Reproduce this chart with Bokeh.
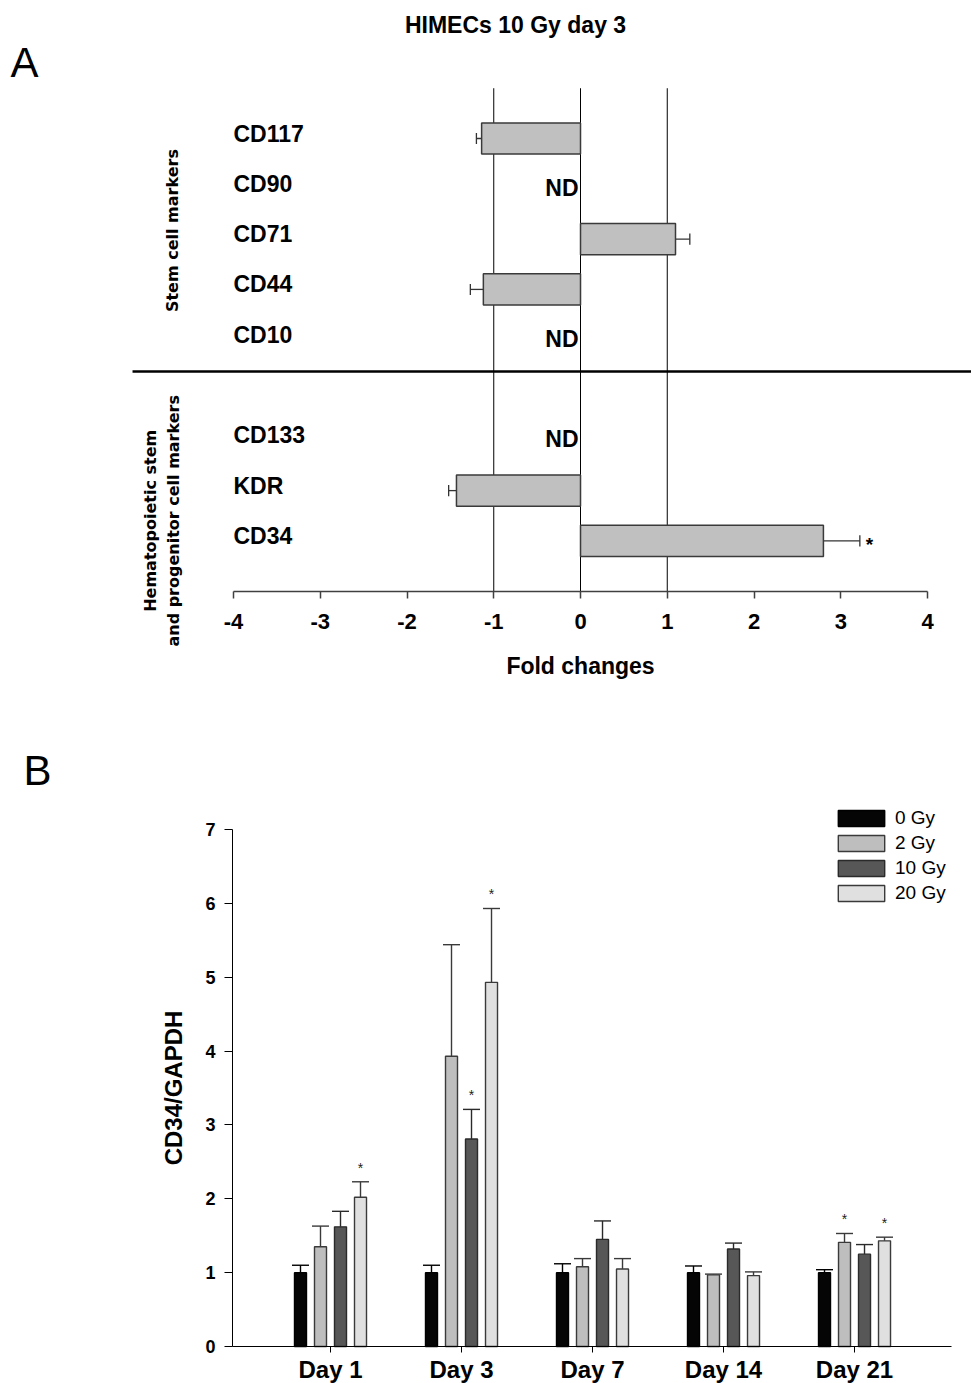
from bokeh.plotting import figure
from bokeh.models import Range1d, Label, FixedTicker, Legend, LegendItem
from bokeh.layouts import column
from bokeh.embed import file_html
from bokeh.resources import INLINE
from bokeh.core.properties import value
import math

# ---------------- Panel A data ----------------
stem_markers = ["CD117", "CD90", "CD71", "CD44", "CD10"]
stem_fold = [-1.14, None, 1.095, -1.12, None]
stem_err = [0.06, None, 0.165, 0.15, None]
stem_sig = [False, False, False, False, False]

hsc_markers = ["CD133", "KDR", "CD34"]
hsc_fold = [None, -1.43, 2.80]
hsc_err = [None, 0.09, 0.42]
hsc_sig = [False, False, True]

ref_lines = [-1, 0, 1]
fold_ticks = [-4, -3, -2, -1, 0, 1, 2, 3, 4]

# ---------------- Panel B data ----------------
days = ["Day 1", "Day 3", "Day 7", "Day 14", "Day 21"]
doses = ["0 Gy", "2 Gy", "10 Gy", "20 Gy"]
gy0 = [1.00, 1.00, 1.00, 1.00, 1.00]
gy0_err = [0.10, 0.10, 0.12, 0.09, 0.04]
gy2 = [1.35, 3.93, 1.08, 0.97, 1.41]
gy2_err = [0.28, 1.51, 0.11, 0.01, 0.12]
gy10 = [1.62, 2.81, 1.45, 1.32, 1.25]
gy10_err = [0.21, 0.40, 0.25, 0.08, 0.13]
gy20 = [2.02, 4.93, 1.05, 0.96, 1.43]
gy20_err = [0.21, 1.00, 0.14, 0.05, 0.05]
gy0_sig = [False, False, False, False, False]
gy2_sig = [False, False, False, False, True]
gy10_sig = [False, True, False, False, False]
gy20_sig = [True, True, False, False, True]
y_ticks_b = [0, 1, 2, 3, 4, 5, 6, 7]

FONT = value("Liberation Sans")
LFONT = "Liberation Sans"
WIDE = "DejaVu Sans"

# =============== Panel A ===============
pA = figure(width=971, height=700,
            x_range=Range1d(-6.686, 4.507), y_range=Range1d(11.173, -2.744),
            output_backend="svg", toolbar_location=None, y_axis_type=None,
            min_border_left=0, min_border_right=0, min_border_top=0, min_border_bottom=0)
pA.outline_line_color = None
pA.grid.visible = False

markers = stem_markers + hsc_markers
folds = stem_fold + hsc_fold
errs = stem_err + hsc_err
sigs = stem_sig + hsc_sig
rows = list(range(len(stem_markers))) + [len(stem_markers) + 1 + i for i in range(len(hsc_markers))]
axis_row = rows[-1] + 1

# reference lines
pA.segment(x0=ref_lines, x1=ref_lines, y0=[-1] * len(ref_lines), y1=[axis_row] * len(ref_lines),
           line_color="black", line_width=1)

# separator between groups
sep_row = len(stem_markers) - 0.37
pA.segment(x0=[-5.164], x1=[4.6], y0=[sep_row], y1=[sep_row], line_color="black", line_width=2.5)

bar_y, bar_l, bar_r = [], [], []
e_x0, e_x1, e_y = [], [], []
nd_y, star_x, star_y = [], [], []
for r, f, e, s in zip(rows, folds, errs, sigs):
    if f is None:
        nd_y.append(r)
        continue
    bar_y.append(r)
    bar_l.append(min(0, f))
    bar_r.append(max(0, f))
    end = f + math.copysign(e, f)
    e_x0.append(f)
    e_x1.append(end)
    e_y.append(r)
    if s:
        star_x.append(end)
        star_y.append(r)

pA.segment(x0=e_x0, x1=e_x1, y0=e_y, y1=e_y, line_color="#333333", line_width=1.3)
pA.segment(x0=e_x1, x1=e_x1, y0=[y - 0.11 for y in e_y], y1=[y + 0.11 for y in e_y],
           line_color="#333333", line_width=1.3)
pA.hbar(y=bar_y, left=bar_l, right=bar_r, height=0.62, fill_color="#c0c0c0",
        line_color="#3a3a3a", line_width=1.5)

pA.text(x=[-4] * len(markers), y=rows, text=markers, text_font=FONT, text_font_style="bold",
        text_font_size="23px", text_baseline="middle", text_align="left", y_offset=-5,
        text_color="black")
pA.text(x=[0] * len(nd_y), y=nd_y, text=["ND"] * len(nd_y), text_font=FONT,
        text_font_style="bold", text_font_size="23px", text_baseline="middle",
        text_align="right", x_offset=-2, y_offset=-1, text_color="black")
pA.text(x=star_x, y=star_y, text=["*"] * len(star_x), text_font=FONT, text_font_style="bold",
        text_font_size="19px", text_baseline="alphabetic", text_align="left",
        x_offset=6, y_offset=4, text_color="black")

pA.add_layout(Label(x=-0.749, y=-2.247, text="HIMECs 10 Gy day 3", text_font=LFONT,
                    text_font_style="bold", text_font_size="23px", text_align="center",
                    text_baseline="middle", text_color="black"))
pA.add_layout(Label(x=-6.41, y=-1.51, text="A", text_font=LFONT, text_font_size="42px",
                    text_align="center", text_baseline="middle", text_color="black"))
pA.add_layout(Label(x=-4.70, y=1.83, text="Stem cell markers", text_font=WIDE,
                    text_font_style="bold", text_font_size="16px", text_align="center",
                    text_baseline="middle", angle=math.pi / 2, text_color="black"))
pA.add_layout(Label(x=-4.957, y=7.6, text="Hematopoietic stem", text_font=WIDE,
                    text_font_style="bold", text_font_size="16px", text_align="center",
                    text_baseline="middle", angle=math.pi / 2, text_color="black"))
pA.add_layout(Label(x=-4.69, y=7.6, text="and progenitor cell markers", text_font=WIDE,
                    text_font_style="bold", text_font_size="16px", text_align="center",
                    text_baseline="middle", angle=math.pi / 2, text_color="black"))

xa = pA.xaxis[0]
xa.fixed_location = axis_row
xa.bounds = (fold_ticks[0], fold_ticks[-1])
xa.ticker = FixedTicker(ticks=fold_ticks)
xa.major_label_overrides = {t: str(t) for t in fold_ticks}
xa.minor_tick_line_color = None
xa.major_tick_in = 0
xa.major_tick_out = 7
xa.axis_line_color = "#404040"
xa.axis_line_width = 1.5
xa.major_tick_line_color = "#404040"
xa.major_tick_line_width = 1.5
xa.major_label_text_font = LFONT
xa.major_label_text_font_style = "bold"
xa.major_label_text_font_size = "22px"
xa.major_label_text_color = "black"
xa.major_label_standoff = 16
xa.axis_label = "Fold changes"
xa.axis_label_text_font = LFONT
xa.axis_label_text_font_style = "bold"
xa.axis_label_text_font_size = "23px"
xa.axis_label_text_color = "black"
xa.axis_label_standoff = 20

# =============== Panel B ===============
pB = figure(width=971, height=683,
            x_range=Range1d(-2.519, 4.893), y_range=Range1d(-0.501, 8.746),
            output_backend="svg", toolbar_location=None,
            min_border_left=0, min_border_right=0, min_border_top=0, min_border_bottom=0)
pB.outline_line_color = None
pB.grid.visible = False

series = [(gy0, gy0_err, gy0_sig), (gy2, gy2_err, gy2_sig),
          (gy10, gy10_err, gy10_sig), (gy20, gy20_err, gy20_sig)]
fills = ["#050505", "#bebebe", "#575757", "#e0e0e0"]
lines = ["#000000", "#3a3a3a", "#2a2a2a", "#3a3a3a"]
pitch = 0.1527
bw = 0.0916
cap = 0.065
items = []
for k, ((vals, ers, sg), fc, lc) in enumerate(zip(series, fills, lines)):
    off = (k - (len(series) - 1) / 2) * pitch
    xs = [i + off for i in range(len(days))]
    tops = [v + e for v, e in zip(vals, ers)]
    pB.segment(x0=xs, x1=xs, y0=vals, y1=tops, line_color=lc, line_width=1.4)
    pB.segment(x0=[x - cap for x in xs], x1=[x + cap for x in xs], y0=tops, y1=tops,
               line_color=lc, line_width=1.4)
    r = pB.vbar(x=xs, top=vals, bottom=0, width=bw, fill_color=fc, line_color=lc, line_width=1.4)
    items.append(LegendItem(label=doses[k], renderers=[r]))
    sx = [x for x, s in zip(xs, sg) if s]
    sy = [t for t, s in zip(tops, sg) if s]
    pB.text(x=sx, y=sy, text=["*"] * len(sx), text_font=FONT, text_font_size="14px",
            text_align="center", text_baseline="alphabetic", y_offset=-14, text_color="#222222")

legend = Legend(items=items, location=(832, 479), glyph_width=58, glyph_height=20,
                label_text_font=LFONT, label_text_font_size="19px", label_standoff=5,
                spacing=3, padding=0, margin=0, border_line_color=None,
                background_fill_alpha=0, label_text_color="black")
pB.add_layout(legend)

pB.add_layout(Label(x=-2.237, y=7.794, text="B", text_font=LFONT, text_font_size="42px",
                    text_align="center", text_baseline="middle", text_color="black"))

x_left_b = -0.748
ya = pB.yaxis[0]
ya.fixed_location = x_left_b
ya.bounds = (y_ticks_b[0], y_ticks_b[-1])
ya.ticker = FixedTicker(ticks=y_ticks_b)
ya.minor_tick_line_color = None
ya.major_tick_in = 0
ya.major_tick_out = 8
ya.axis_line_color = "black"
ya.major_tick_line_color = "black"
ya.major_label_text_font = LFONT
ya.major_label_text_font_style = "bold"
ya.major_label_text_font_size = "18px"
ya.major_label_text_color = "black"
ya.major_label_standoff = 9
ya.axis_label = "CD34/GAPDH"
ya.axis_label_text_font = LFONT
ya.axis_label_text_font_style = "bold"
ya.axis_label_text_font_size = "24px"
ya.axis_label_text_color = "black"
ya.axis_label_standoff = 15

xb = pB.xaxis[0]
xb.fixed_location = 0
xb.bounds = (x_left_b, 4.74)
xb.ticker = FixedTicker(ticks=list(range(len(days))))
xb.major_label_overrides = {i: d for i, d in enumerate(days)}
xb.minor_tick_line_color = None
xb.major_tick_in = 0
xb.major_tick_out = 6
xb.axis_line_color = "black"
xb.major_tick_line_color = "black"
xb.major_label_text_font = LFONT
xb.major_label_text_font_style = "bold"
xb.major_label_text_font_size = "24px"
xb.major_label_text_color = "black"
xb.major_label_standoff = 4

open("out.html", "w").write(file_html(column(pA, pB), INLINE))
